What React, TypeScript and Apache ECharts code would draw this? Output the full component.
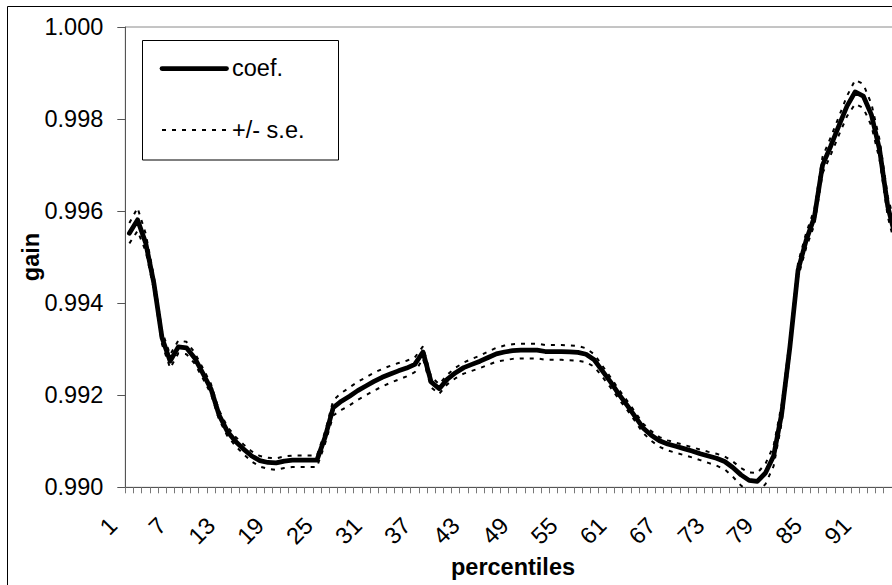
import React, { useEffect, useRef } from "react";
import * as echarts from "echarts";

// Percentile categories along the x axis
const percentiles: string[] = [
  "1", "2", "3", "4", "5", "6", "7", "8", "9", "10",
  "11", "12", "13", "14", "15", "16", "17", "18", "19", "20",
  "21", "22", "23", "24", "25", "26", "27", "28", "29", "30",
  "31", "32", "33", "34", "35", "36", "37", "38", "39", "40",
  "41", "42", "43", "44", "45", "46", "47", "48", "49", "50",
  "51", "52", "53", "54", "55", "56", "57", "58", "59", "60",
  "61", "62", "63", "64", "65", "66", "67", "68", "69", "70",
  "71", "72", "73", "74", "75", "76", "77", "78", "79", "80",
  "81", "82", "83", "84", "85", "86", "87", "88", "89", "90",
  "91", "92", "93", "94", "95",
];

// Estimated gain coefficient per percentile
const coef: number[] = [
  0.99552, 0.99581, 0.99531, 0.99444, 0.99325, 0.99274, 0.99305, 0.99303, 0.99281, 0.99248,
  0.99214, 0.99157, 0.99122, 0.991, 0.99083, 0.99068, 0.99058, 0.99054, 0.99053, 0.99057,
  0.99059, 0.99059, 0.99059, 0.99059, 0.99109, 0.99173, 0.99187, 0.99198, 0.9921, 0.9922,
  0.9923, 0.99239, 0.99246, 0.99253, 0.99259, 0.99267, 0.99294, 0.99229, 0.99214, 0.99235,
  0.99249, 0.9926, 0.99267, 0.99274, 0.99282, 0.9929, 0.99294, 0.99297, 0.99298, 0.99298,
  0.99298, 0.99295, 0.99295, 0.99295, 0.99294, 0.99293, 0.99289, 0.99277, 0.99253, 0.99229,
  0.99203, 0.99179, 0.99154, 0.99129, 0.99113, 0.99101, 0.99094, 0.99089, 0.99084, 0.99079,
  0.99073, 0.99068, 0.99063, 0.99056, 0.99043, 0.99027, 0.99015, 0.99013, 0.99031, 0.99068,
  0.99161, 0.99305, 0.99472, 0.99537, 0.99587, 0.997, 0.99741, 0.99785, 0.99828, 0.99859,
  0.9985, 0.99809, 0.99733, 0.9961, 0.9954,
];

// Upper band: coefficient plus one standard error
const upperSE: number[] = [
  0.99574, 0.99607, 0.99551, 0.99459, 0.99339, 0.99288, 0.99319, 0.99316, 0.99293, 0.99259,
  0.99225, 0.99167, 0.99132, 0.9911, 0.99093, 0.99078, 0.99068, 0.99064, 0.99063, 0.99067,
  0.99069, 0.99069, 0.99069, 0.99069, 0.99121, 0.99189, 0.99205, 0.99217, 0.99229, 0.99239,
  0.99249, 0.99257, 0.99264, 0.9927, 0.99275, 0.99282, 0.99306, 0.9924, 0.99224, 0.99245,
  0.9926, 0.99271, 0.99279, 0.99286, 0.99295, 0.99303, 0.99308, 0.99311, 0.99312, 0.99312,
  0.99312, 0.99309, 0.99309, 0.99309, 0.99308, 0.99307, 0.99302, 0.99289, 0.99264, 0.99239,
  0.99213, 0.99189, 0.99164, 0.99138, 0.99122, 0.99109, 0.99102, 0.99097, 0.99092, 0.99087,
  0.99082, 0.99077, 0.99073, 0.99067, 0.99056, 0.99042, 0.99032, 0.99031, 0.99051, 0.9909,
  0.99181, 0.99323, 0.99488, 0.99553, 0.99604, 0.99718, 0.9976, 0.99805, 0.9985, 0.99885,
  0.99876, 0.99833, 0.99755, 0.99632, 0.99562,
];

// Lower band: coefficient minus one standard error
const lowerSE: number[] = [
  0.9953, 0.99557, 0.99513, 0.9943, 0.99311, 0.99259, 0.99291, 0.99289, 0.99269, 0.99237,
  0.99203, 0.99147, 0.99112, 0.9909, 0.99072, 0.99056, 0.99045, 0.9904, 0.99038, 0.99042,
  0.99044, 0.99044, 0.99044, 0.99044, 0.99095, 0.99156, 0.99168, 0.99178, 0.9919, 0.992,
  0.9921, 0.99219, 0.99227, 0.99234, 0.99241, 0.9925, 0.9928, 0.99217, 0.99203, 0.99224,
  0.99237, 0.99247, 0.99253, 0.99259, 0.99266, 0.99273, 0.99276, 0.99279, 0.9928, 0.9928,
  0.9928, 0.99277, 0.99277, 0.99277, 0.99276, 0.99275, 0.99272, 0.99262, 0.9924, 0.99217,
  0.99192, 0.99169, 0.99144, 0.99118, 0.99101, 0.99088, 0.9908, 0.99075, 0.9907, 0.99065,
  0.99059, 0.99053, 0.99047, 0.99039, 0.99023, 0.99004, 0.9899, 0.98988, 0.99007, 0.99046,
  0.99141, 0.99287, 0.99456, 0.99521, 0.9957, 0.99682, 0.99722, 0.99765, 0.99806, 0.99833,
  0.99824, 0.99785, 0.99711, 0.99588, 0.99518,
];

const FONT = "'Liberation Sans', Arial, Helvetica, sans-serif";
const DASH = [4, 6];

export default function App() {
  const ref = useRef<HTMLDivElement>(null);

  useEffect(() => {
    if (!ref.current) return;
    const chart = echarts.init(ref.current, undefined, { renderer: "svg" });

    chart.setOption({
      animation: false,
      backgroundColor: "#ffffff",
      textStyle: { fontFamily: FONT },
      grid: {
        left: 125.3,
        top: 27,
        width: 774.7,
        height: 460.3,
        show: true,
        borderColor: "#8a8a8a",
        borderWidth: 1,
        backgroundColor: "transparent",
      },
      xAxis: {
        type: "category",
        data: percentiles,
        boundaryGap: true,
        axisLine: { show: true, lineStyle: { color: "#555555", width: 1 } },
        axisTick: {
          show: true,
          interval: 0,
          length: 6,
          lineStyle: { color: "#777777", width: 1 },
        },
        axisLabel: {
          interval: 5,
          rotate: 45,
          margin: 18,
          padding: [0, 23, 0, 0],
          fontSize: 23.5,
          color: "#000000",
          fontFamily: FONT,
        },
        splitLine: { show: false },
      },
      yAxis: {
        type: "value",
        min: 0.99,
        max: 1.0,
        interval: 0.002,
        axisLine: { show: true, lineStyle: { color: "#555555", width: 1 } },
        axisTick: { show: true, length: 8, lineStyle: { color: "#555555", width: 1 } },
        axisLabel: {
          margin: 22,
          fontSize: 23.5,
          color: "#000000",
          fontFamily: FONT,
          formatter: (v: number) => v.toFixed(3),
        },
        splitLine: { show: false },
      },
      series: [
        {
          name: "coef.",
          type: "line",
          data: coef,
          symbol: "none",
          clip: true,
          lineStyle: { color: "#000000", width: 4.75, join: "round", cap: "round" },
        },
        {
          name: "+/- s.e.",
          type: "line",
          data: upperSE,
          symbol: "none",
          clip: true,
          lineStyle: { color: "#000000", width: 2, type: DASH },
        },
        {
          name: "+/- s.e. (lower)",
          type: "line",
          data: lowerSE,
          symbol: "none",
          clip: true,
          lineStyle: { color: "#000000", width: 2, type: DASH },
        },
      ],
      graphic: [
        {
          type: "rect",
          z: -10,
          shape: { x: 7.5, y: 6.5, width: 910, height: 600 },
          style: { fill: "transparent", stroke: "#000000", lineWidth: 1 },
        },
        {
          type: "text",
          x: 31,
          y: 257,
          rotation: Math.PI / 2,
          style: {
            text: "gain",
            font: `bold 23.5px ${FONT}`,
            fill: "#000000",
            align: "center",
            verticalAlign: "middle",
          },
        },
        {
          type: "text",
          x: 513,
          y: 567,
          style: {
            text: "percentiles",
            font: `bold 23.5px ${FONT}`,
            fill: "#000000",
            align: "center",
            verticalAlign: "middle",
          },
        },
        {
          type: "group",
          z: 20,
          children: [
            {
              type: "rect",
              shape: { x: 142.5, y: 40.5, width: 196, height: 119.5 },
              style: { fill: "#ffffff", stroke: "#000000", lineWidth: 1 },
            },
            {
              type: "line",
              shape: { x1: 162, y1: 68.5, x2: 226.5, y2: 68.5 },
              style: { stroke: "#000000", lineWidth: 4.75, lineCap: "round" },
            },
            {
              type: "text",
              x: 232,
              y: 68,
              style: {
                text: "coef.",
                font: `23.5px ${FONT}`,
                fill: "#000000",
                align: "left",
                verticalAlign: "middle",
              },
            },
            {
              type: "line",
              shape: { x1: 162, y1: 130, x2: 228, y2: 130 },
              style: { stroke: "#000000", lineWidth: 2, lineDash: DASH },
            },
            {
              type: "text",
              x: 232,
              y: 130,
              style: {
                text: "+/- s.e.",
                font: `23.5px ${FONT}`,
                fill: "#000000",
                align: "left",
                verticalAlign: "middle",
              },
            },
          ],
        },
      ],
    });

    return () => chart.dispose();
  }, []);

  // The plot area runs slightly past the right edge of the visible frame,
  // so the chart canvas is wider than the clipping frame around it.
  return (
    <div
      style={{
        position: "fixed",
        left: 0,
        top: 0,
        width: 892,
        height: 585,
        overflow: "hidden",
        background: "#fff",
      }}
    >
      <div ref={ref} style={{ width: 912, height: 585 }} />
    </div>
  );
}
